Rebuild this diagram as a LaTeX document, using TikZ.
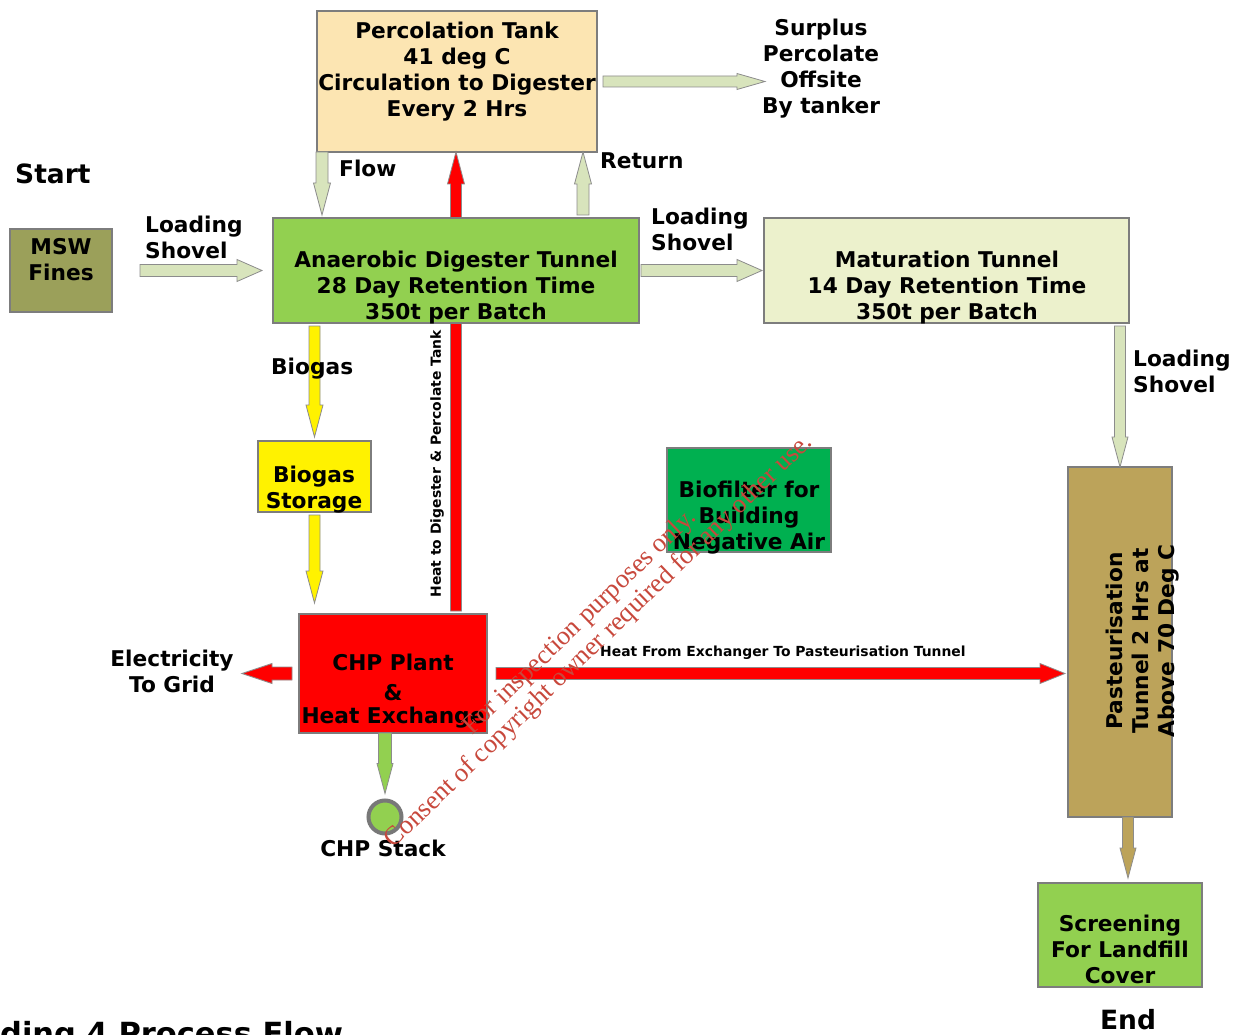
\documentclass[tikz,border=0pt]{standalone}
\usepackage{fontspec}
\setmainfont{DejaVu Sans}
\newfontfamily\wmfont{Liberation Serif}
\usetikzlibrary{calc}

\definecolor{lg}{RGB}{216,228,188}
\definecolor{arrowedge}{RGB}{140,140,140}
\definecolor{boxedge}{RGB}{125,125,125}
\definecolor{perccol}{RGB}{252,229,178}
\definecolor{diggreen}{RGB}{146,208,80}
\definecolor{matcol}{RGB}{236,241,204}
\definecolor{mswcol}{RGB}{155,160,90}
\definecolor{pastcol}{RGB}{188,163,90}
\definecolor{biofcol}{RGB}{0,176,80}
\definecolor{wmcol}{RGB}{200,72,60}
\definecolor{stackedge}{RGB}{120,120,120}

\begin{document}
\begin{tikzpicture}[x=1pt,y=-1pt,
  box/.style={draw=boxedge, line width=1.1pt, inner sep=0pt, outer sep=0pt, anchor=north west},
  txt/.style={font=\fontsize{21.7}{26}\selectfont\bfseries, align=center, inner sep=0pt},
  lbl/.style={font=\fontsize{21.7}{26}\selectfont\bfseries, align=left, inner sep=0pt, anchor=west},
  small/.style={font=\fontsize{13.9}{16}\selectfont\bfseries, inner sep=0pt},
  big/.style={font=\fontsize{26.5}{30}\selectfont\bfseries, inner sep=0pt},
  wm/.style={font=\wmfont\fontsize{26.5}{27}\selectfont, text=wmcol, align=center, inner sep=0pt},
  ba/.style n args={3}{to path={
     ($(\tikztostart)!#1!90:(\tikztotarget)$) --
     ($(\tikztotarget)!#3!(\tikztostart)!#1!90:(\tikztotarget)$) --
     ($(\tikztotarget)!#3!(\tikztostart)!#2!90:(\tikztotarget)$) --
     (\tikztotarget) --
     ($(\tikztotarget)!#3!(\tikztostart)!#2!-90:(\tikztotarget)$) --
     ($(\tikztotarget)!#3!(\tikztostart)!#1!-90:(\tikztotarget)$) --
     ($(\tikztostart)!#1!-90:(\tikztotarget)$) -- cycle}},
  barrow/.style={draw=arrowedge, line width=0.8pt, line join=miter},
]
\fill[white] (0,0) rectangle (1243,1035);
\useasboundingbox (0,0) rectangle (1243,1035);

% ---- box frames (positions) ----
\path (317,11) node[box, fill=perccol, minimum width=280pt, minimum height=141pt] (perc) {};
\path (10,229) node[box, draw=none, minimum width=102pt, minimum height=83pt] (msw) {};
\path (273,218) node[box, draw=none, minimum width=366pt, minimum height=105pt] (dig) {};
\path (764,218) node[box, draw=none, minimum width=365pt, minimum height=105pt] (mat) {};
\path (1068,467) node[box, draw=none, minimum width=104pt, minimum height=350pt] (past) {};
\path (1038,883) node[box, draw=none, minimum width=164pt, minimum height=104pt] (scr) {};
\path (258,441) node[box, draw=none, minimum width=113pt, minimum height=71pt] (bs) {};
\path (299,614) node[box, draw=none, minimum width=188pt, minimum height=119pt] (chp) {};

% ---- connector coordinates ----
\coordinate (a1s) at ($(msw.east)+(28,0)$);
\coordinate (a1e) at ($(dig.west)+(-11,0)$);
\coordinate (fls) at ($(perc.south west)+(5,0)$);
\coordinate (fle) at ($(dig.north west)+(49,-3)$);
\coordinate (rts) at ($(dig.north east)+(-56,-3)$);
\coordinate (rte) at ($(perc.south east)+(-14,0)$);
\coordinate (hus) at ($(chp.north east)+(-31,-3)$);
\coordinate (hue) at ($(perc.south)+(-1,0)$);
\coordinate (sps) at ($(perc.east)+(6,0)$);
\coordinate (spe) at ($(perc.east)+(168,0)$);
\coordinate (l2s) at ($(dig.east)+(2,0)$);
\coordinate (l2e) at ($(mat.west)+(-2,0)$);
\coordinate (l3s) at ($(mat.south east)+(-9,3)$);
\coordinate (l3e) at (past.north);
\coordinate (pds) at ($(past.south)+(8,0)$);
\coordinate (pde) at ($(scr.north)+(8,-5)$);
\coordinate (bgs) at ($(dig.south west)+(41.5,3)$);
\coordinate (bge) at ($(bs.north)+(0,-4)$);
\coordinate (y2s) at ($(bs.south)+(0,3)$);
\coordinate (y2e) at ($(chp.north west)+(15.5,-11)$);
\coordinate (els) at ($(chp.west)+(-7,0)$);
\coordinate (ele) at ($(chp.west)+(-57,0)$);
\coordinate (hps) at ($(chp.east)+(9,0)$);
\coordinate (hpe) at ($(past.west |- chp.east)+(-3,0)$);

% ---- red heat arrow behind digester ----
\path[barrow, fill=red] (hus) to[ba={5.5pt}{8.5pt}{32pt}] (hue);

% ---- drawn boxes ----
\fill[mswcol, draw=boxedge, line width=1.1pt] (msw.north west) rectangle (msw.south east);
\fill[diggreen, draw=boxedge, line width=1.1pt] (dig.north west) rectangle (dig.south east);
\fill[matcol, draw=boxedge, line width=1.1pt] (mat.north west) rectangle (mat.south east);
\fill[pastcol, draw=boxedge, line width=1.1pt] (past.north west) rectangle (past.south east);
\fill[diggreen, draw=boxedge, line width=1.1pt] (scr.north west) rectangle (scr.south east);
\fill[yellow, draw=boxedge, line width=1.1pt] (bs.north west) rectangle (bs.south east);
\fill[red, draw=boxedge, line width=1.1pt] (chp.north west) rectangle (chp.south east);
\path (667,448) node[box, fill=biofcol, minimum width=164pt, minimum height=104pt] (biof) {};
\node[circle, draw=stackedge, line width=4pt, fill=diggreen, minimum size=33pt, inner sep=0pt] (stack) at (385,817) {};
\coordinate (sts) at ($(chp.south)+(-8,0)$);
\coordinate (ste) at ($(stack.north)+(0,-5)$);

% ---- block arrows ----
\path[barrow, fill=lg] (a1s) to[ba={6pt}{11pt}{25pt}] (a1e);
\path[barrow, fill=lg] (fls) to[ba={6pt}{8.5pt}{32pt}] (fle);
\path[barrow, fill=lg] (rts) to[ba={6pt}{8.5pt}{32pt}] (rte);
\path[barrow, fill=lg] (sps) to[ba={5.5pt}{8pt}{28pt}] (spe);
\path[barrow, fill=lg] (l2s) to[ba={6pt}{11pt}{25pt}] (l2e);
\path[barrow, fill=lg] (l3s) to[ba={5.5pt}{8pt}{30pt}] (l3e);
\path[barrow, fill=pastcol] (pds) to[ba={5.5pt}{8pt}{30pt}] (pde);
\path[barrow, fill=yellow] (bgs) to[ba={5.5pt}{8.5pt}{32pt}] (bge);
\path[barrow, fill=yellow] (y2s) to[ba={5.5pt}{8.5pt}{32pt}] (y2e);
\path[barrow, fill=red] (els) to[ba={6.5pt}{10pt}{30pt}] (ele);
\path[barrow, fill=red] (hps) to[ba={6pt}{10pt}{25pt}] (hpe);
\path[barrow, fill=diggreen] (sts) to[ba={6.5pt}{8pt}{30pt}] (ste);

% ---- texts ----
\node[txt] (perct) at (457,72) {Percolation Tank\\41 deg C\\Circulation to Digester\\Every 2 Hrs};
\node[txt] (mswt) at (61,260) {MSW\\Fines};
\node[txt] (digt) at (456,288) {Anaerobic Digester Tunnel\\28 Day Retention Time\\350t per Batch};
\node[txt] (matt) at (947,288) {Maturation Tunnel\\14 Day Retention Time\\350t per Batch};
\node[txt, rotate=90] (pastt) at (1143,641) {Pasteurisation\\Tunnel 2 Hrs at\\Above 70 Deg C};
\node[txt] (scrt) at (1120,949) {Screening\\For Landfill\\Cover};
\node[txt] (bst) at (314,490) {Biogas\\Storage};
\node[txt] (chpt) at (393,691) {CHP Plant\\[4pt]\&\\[-3pt]Heat Exchange};
\node[txt] (biot) at (749,518) {Biofilter for\\Building\\Negative Air};
\node[txt] (surt) at (821,69) {Surplus\\Percolate\\Offsite\\By tanker};
\node[txt] (elect) at (172,671) {Electricity\\To Grid};
\node[lbl] (ls1) at (145,237) {Loading\\Shovel};
\node[lbl] (ls2) at (651,229) {Loading\\Shovel};
\node[lbl] (ls3) at (1133,371) {Loading\\Shovel};
\node[lbl] (flowt) at (339,168) {Flow};
\node[lbl] (rett) at (600,161) {Return};
\node[lbl] (biogt) at (271,369) {Biogas};
\node[txt] (stackt) at (383,848) {CHP Stack};
\node[big, anchor=west] (startt) at (15,174) {Start};
\node[big] (endt) at (1128,1020) {End};
\node[font=\fontsize{30.5}{33}\selectfont\bfseries, inner sep=0pt, anchor=base west] (titlet) at (0,1044) {ding 4 Process Flow};
\node[small, rotate=90] (heatdig) at (437,464) {Heat to Digester \& Percolate Tank};
\node[small, anchor=west] (heatpast) at (600,653) {Heat From Exchanger To Pasteurisation Tunnel};

% ---- watermark ----
\node[wm, rotate=44] (wmark) at (590,632) {For inspection purposes only.\\Consent of copyright owner required for any other use.};
\end{tikzpicture}
\end{document}
